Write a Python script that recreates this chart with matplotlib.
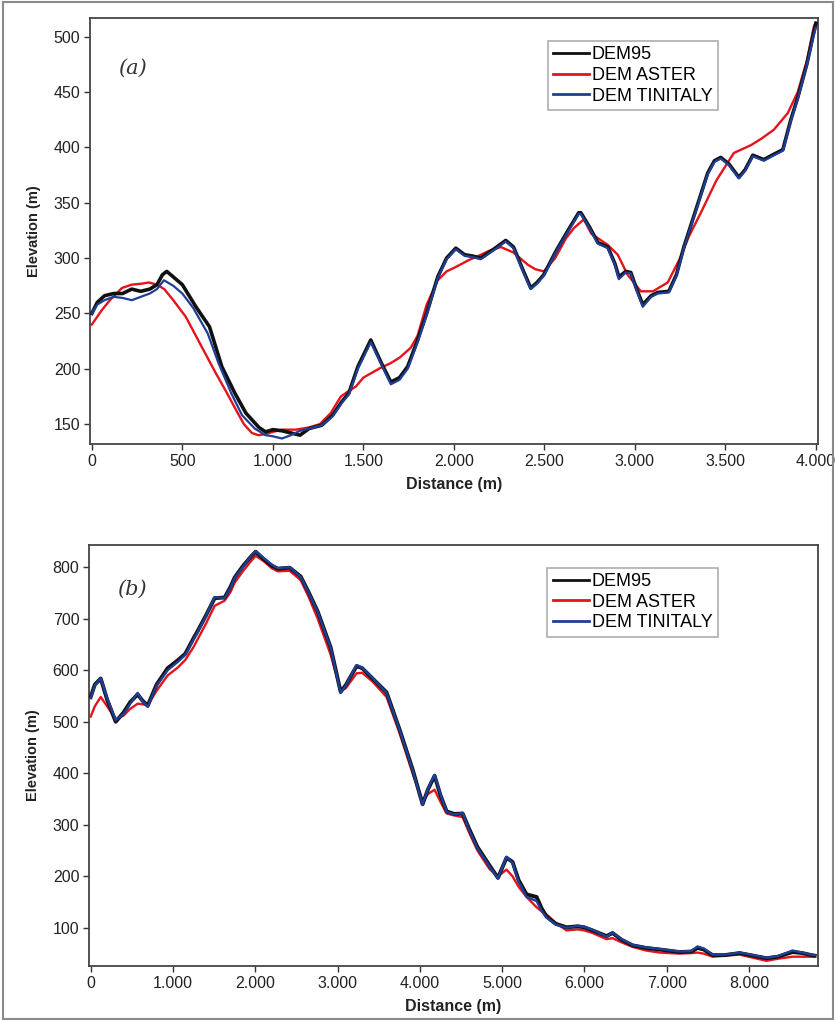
import matplotlib.pyplot as plt
from matplotlib.patches import Rectangle
from matplotlib.ticker import FuncFormatter

plt.rcParams['font.family'] = ['Liberation Sans', 'DejaVu Sans']

# --- profile (a) ---
a_dem95_x = [0, 30, 70, 120, 170, 220, 270, 320, 360, 390, 414, 450, 500, 575, 650, 718,
             790, 851, 923, 960, 1000, 1050, 1100, 1150, 1200, 1271, 1330, 1380, 1420, 1470,
             1541, 1600, 1652, 1700, 1745, 1800, 1850, 1911, 1960, 2011, 2060, 2100, 2149,
             2220, 2287, 2330, 2380, 2425, 2460, 2497, 2560, 2620, 2690, 2702, 2750, 2796,
             2851, 2890, 2912, 2950, 2978, 3010, 3044, 3090, 3127, 3188, 3230, 3271, 3340,
             3403, 3440, 3475, 3520, 3575, 3610, 3652, 3713, 3770, 3818, 3862, 3900, 3950,
             3989, 4000]
a_dem95_y = [250, 260, 266, 268, 268, 272, 270, 272, 276, 285, 288, 283, 276, 256, 238, 202,
             178, 160, 147, 143, 145, 144, 142, 140, 146, 149, 158, 170, 178, 202,
             226, 205, 188, 192, 202, 226, 250, 283, 300, 309, 303, 302, 300,
             308, 316, 310, 290, 273, 278, 285, 305, 322, 341, 341, 328, 314,
             310, 295, 283, 288, 287, 272, 258, 266, 269, 270, 285, 310, 345,
             377, 388, 391, 385, 373, 380, 393, 389, 394, 398, 425, 445, 475,
             504, 512]

a_tinitaly_x = [0, 30, 70, 120, 170, 221, 270, 320, 360, 398, 450, 500, 560, 640, 700, 770,
                830, 900, 960, 1000, 1050, 1100, 1150, 1200, 1271, 1330, 1380, 1420, 1470,
                1541, 1600, 1652, 1700, 1745, 1800, 1850, 1911, 1960, 2011, 2060, 2100, 2149,
                2220, 2287, 2330, 2380, 2425, 2460, 2497, 2560, 2620, 2690, 2702, 2750, 2796,
                2851, 2890, 2912, 2950, 2978, 3010, 3044, 3090, 3127, 3188, 3230, 3271, 3340,
                3403, 3440, 3475, 3520, 3575, 3610, 3652, 3713, 3770, 3818, 3862, 3900, 3950,
                3989, 4000]
a_tinitaly_y = [250, 258, 262, 265, 264, 262, 265, 268, 272, 280, 275, 268, 255, 232, 205, 178,
                158, 146, 140, 139, 137, 140, 144, 146, 149, 157, 169, 177, 200,
                224, 204, 186, 190, 200, 224, 249, 282, 299, 308, 302, 301, 299,
                307, 315, 309, 289, 272, 277, 284, 304, 321, 340, 340, 327, 313,
                309, 294, 281, 287, 286, 271, 256, 265, 268, 269, 284, 309, 344,
                376, 387, 390, 384, 372, 379, 392, 388, 393, 397, 424, 444, 474,
                502, 508]

a_aster_x = [0, 55, 100, 166, 220, 280, 315, 360, 400, 450, 519, 600, 685, 740, 796, 840, 884,
             920, 960, 1000, 1050, 1100, 1127, 1200, 1260, 1320, 1376, 1420, 1459, 1500, 1597,
             1650, 1700, 1762, 1800, 1850, 1911, 1960, 2011, 2080, 2149, 2200, 2260, 2330,
             2409, 2450, 2497, 2560, 2620, 2663, 2718, 2760, 2850, 2906, 2960, 3033, 3100,
             3182, 3250, 3300, 3365, 3450, 3547, 3641, 3700, 3768, 3845, 3900, 3950, 3989, 4000]
a_aster_y = [240, 253, 262, 273, 276, 277, 278, 276, 272, 262, 247, 222, 196, 180, 163, 150, 142,
             140, 141, 143, 145, 145, 145, 147, 150, 160, 175, 180, 184, 192, 201,
             205, 210, 219, 230, 258, 280, 288, 292, 298, 303, 307, 310, 305,
             294, 290, 288, 300, 318, 327, 335, 322, 312, 303, 285, 270, 270,
             278, 300, 320, 341, 370, 395, 402, 408, 416, 431, 450, 478, 509, 513]

# --- profile (b) ---
b_x = [0, 50, 122, 200, 304, 400, 480, 571, 630, 693, 800, 936, 1057, 1150, 1250, 1300, 1400,
       1507, 1628, 1700, 1750, 1850, 1950, 2005, 2100, 2200, 2273, 2418, 2552, 2650, 2759,
       2917, 3038, 3100, 3232, 3300, 3426, 3596, 3754, 3912, 4034, 4100, 4180, 4250, 4326,
       4420, 4520, 4600, 4700, 4848, 4950, 5054, 5127, 5200, 5297, 5419, 5480, 5540, 5650,
       5783, 5917, 6000, 6100, 6270, 6343, 6450, 6586, 6750, 6914, 7157, 7300, 7376, 7450,
       7559, 7700, 7887, 8050, 8214, 8350, 8530, 8650, 8760, 8800]
b_tinitaly_y = [546, 570, 585, 545, 503, 515, 535, 556, 540, 529, 570, 600, 616, 630, 660, 674, 705,
                742, 740, 760, 779, 800, 822, 831, 818, 805, 798, 800, 781, 750, 713,
                643, 556, 570, 610, 605, 585, 556, 484, 407, 339, 370, 397, 360, 325,
                320, 323, 290, 255, 219, 196, 238, 226, 190, 160, 152, 133, 120, 107,
                100, 104, 102, 96, 83, 91, 78, 67, 62, 59, 54, 55, 64, 60,
                48, 48, 52, 47, 42, 45, 56, 52, 48, 47]
b_dem95_y = [548, 572, 584, 543, 500, 518, 538, 553, 541, 531, 572, 604, 619, 632, 662, 676, 706,
             740, 741, 762, 780, 802, 821, 830, 816, 803, 797, 799, 782, 751, 714,
             644, 558, 571, 608, 604, 584, 557, 485, 408, 340, 369, 395, 358, 326,
             321, 322, 292, 257, 221, 197, 236, 228, 193, 165, 160, 138, 122, 108,
             101, 103, 101, 95, 84, 90, 77, 66, 61, 58, 53, 54, 61, 58,
             47, 47, 51, 46, 41, 44, 53, 51, 47, 46]
b_aster_y = [510, 530, 548, 530, 505, 512, 525, 535, 534, 532, 560, 590, 605, 620, 645, 660, 690,
             725, 735, 752, 770, 792, 812, 822, 812, 798, 792, 793, 775, 742, 700,
             630, 560, 565, 594, 595, 578, 548, 478, 400, 345, 360, 368, 345, 322,
             318, 315, 285, 250, 214, 200, 213, 200, 180, 160, 140, 132, 126, 110,
             95, 97, 95, 90, 78, 80, 72, 63, 56, 52, 50, 51, 52, 50,
             44, 46, 48, 42, 36, 40, 44, 44, 44, 44]

a_ticks_x = [0, 500, 1000, 1500, 2000, 2500, 3000, 3500, 4000]
a_ticks_y = [150, 200, 250, 300, 350, 400, 450, 500]
b_ticks_x = [0, 1000, 2000, 3000, 4000, 5000, 6000, 7000, 8000]
b_ticks_y = [100, 200, 300, 400, 500, 600, 700, 800]

c_black = '#111111'
c_red = '#e5131b'
c_blue = '#1d3f96'

fig = plt.figure(figsize=(8.36, 10.21), dpi=100)
fig.patch.set_facecolor('white')
fig.add_artist(Rectangle((0.003, 0.002), 0.994, 0.996, transform=fig.transFigure,
                         fill=False, edgecolor='#8a8a8a', lw=1.5))

ax1 = fig.add_axes([0.1077, 0.5651, 0.8703, 0.4173])
ax2 = fig.add_axes([0.1065, 0.0539, 0.8715, 0.4123])


def dotted_thousands(v, pos):
    return f'{int(v):,}'.replace(',', '.')


def style_axes(ax, xticks, yticks):
    ax.set_xticks(xticks)
    ax.set_yticks(yticks)
    ax.xaxis.set_major_formatter(FuncFormatter(dotted_thousands))
    ax.tick_params(direction='out', length=4, width=1, colors='#333333',
                   labelsize=11.5, labelcolor='#222222', pad=3)
    ax.tick_params(top=False, right=False)
    for s in ax.spines.values():
        s.set_color('#444444')
        s.set_linewidth(1.3)
    ax.set_xlabel('Distance (m)', fontsize=11.5, fontweight='bold', color='#222222', labelpad=6)
    ax.set_ylabel('Elevation (m)', fontsize=10.5, fontweight='bold', color='#222222', labelpad=9)


# panel (a)
ax1.plot(a_aster_x, a_aster_y, color=c_red, lw=1.7, label='DEM ASTER', zorder=2)
ax1.plot(a_dem95_x, a_dem95_y, color=c_black, lw=2.6, label='DEM95', zorder=3)
ax1.plot(a_tinitaly_x, a_tinitaly_y, color=c_blue, lw=1.6, label='DEM TINITALY', zorder=4)
ax1.set_xlim(-10, 4010)
ax1.set_ylim(132, 517)
style_axes(ax1, a_ticks_x, a_ticks_y)
ax1.text(0.038, 0.883, '(a)', transform=ax1.transAxes, fontsize=15, style='italic',
         family='DejaVu Serif', color='#333333', va='center')

# panel (b)
ax2.plot(b_x, b_aster_y, color=c_red, lw=1.7, label='DEM ASTER', zorder=2)
ax2.plot(b_x, b_dem95_y, color=c_black, lw=2.8, label='DEM95', zorder=3)
ax2.plot(b_x, b_tinitaly_y, color=c_blue, lw=1.7, label='DEM TINITALY', zorder=4)
ax2.set_xlim(-20, 8835)
ax2.set_ylim(26, 843)
style_axes(ax2, b_ticks_x, b_ticks_y)
ax2.text(0.038, 0.895, '(b)', transform=ax2.transAxes, fontsize=15, style='italic',
         family='DejaVu Serif', color='#333333', va='center')

for ax in (ax1, ax2):
    h, l = ax.get_legend_handles_labels()
    order = [1, 0, 2]
    leg = ax.legend([h[i] for i in order], [l[i] for i in order], loc='upper left',
                    bbox_to_anchor=(0.629, 0.946), fontsize=13, frameon=True, fancybox=False,
                    edgecolor='#999999', handlelength=2.0, handletextpad=0.15,
                    labelspacing=0.2, borderpad=0.3, borderaxespad=0)
    leg.get_frame().set_linewidth(1.2)
    for line in leg.get_lines():
        line.set_linewidth(2)

fig.savefig('out.png', dpi=100, facecolor='white')
